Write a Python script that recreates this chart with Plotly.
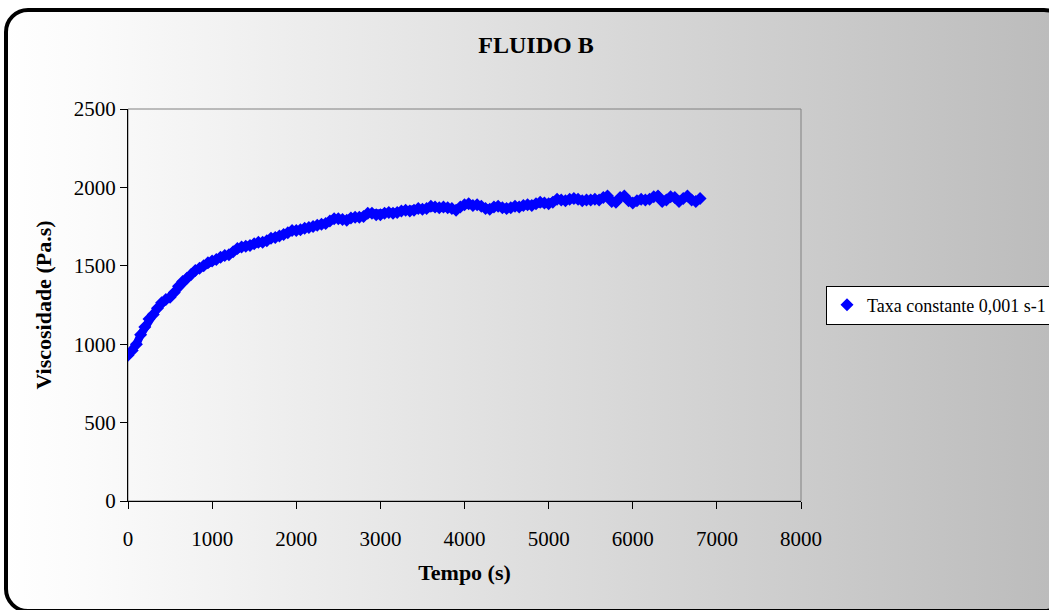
import base64
import plotly.graph_objects as go

# ---- data ----
time_s = [i * 50 for i in range(137)]
viscosity = [
    930, 960, 1000, 1060, 1110, 1160, 1190, 1230, 1265, 1285,
    1300, 1330, 1370, 1400, 1420, 1445, 1470, 1485, 1500, 1520,
    1530, 1540, 1555, 1565, 1570, 1590, 1610, 1620, 1625, 1630,
    1640, 1650, 1650, 1660, 1675, 1680, 1690, 1700, 1710, 1725,
    1725, 1730, 1740, 1745, 1750, 1758, 1765, 1770, 1785, 1800,
    1800, 1795, 1790, 1805, 1810, 1810, 1815, 1835, 1835, 1825,
    1825, 1835, 1840, 1835, 1840, 1850, 1855, 1850, 1855, 1865,
    1860, 1865, 1880, 1875, 1870, 1875, 1870, 1865, 1855, 1875,
    1890, 1895, 1885, 1890, 1880, 1865, 1860, 1875, 1880, 1870,
    1865, 1870, 1880, 1875, 1885, 1890, 1885, 1895, 1905, 1900,
    1895, 1905, 1925, 1920, 1915, 1925, 1930, 1925, 1915, 1920,
    1920, 1925, 1920, 1935, 1945, 1910, 1905, 1935, 1945, 1915,
    1900, 1915, 1925, 1920, 1925, 1940, 1945, 1910, 1920, 1940,
    1935, 1910, 1930, 1945, 1920, 1910, 1930,
]
series_name = "Taxa constante 0,001 s-1"
chart_title = "FLUIDO B"
x_title = "Tempo (s)"
y_title = "Viscosidade (Pa.s)"
x_ticks = [0, 1000, 2000, 3000, 4000, 5000, 6000, 7000, 8000]
y_ticks = [0, 500, 1000, 1500, 2000, 2500]

W, H = 1049, 610
ML, MR, MT, MB = 128, 248, 109, 109
PW, PH = W - ML - MR, H - MT - MB

FONT = "Liberation Serif, Times New Roman, serif"
BLUE = "#0000FF"

# background frame: rounded border (cropped at right/bottom) with gray gradient
svg = (
    "<svg xmlns='http://www.w3.org/2000/svg' width='1049' height='610' "
    "viewBox='0 0 1049 610' preserveAspectRatio='none'>"
    "<defs><linearGradient id='g' gradientUnits='userSpaceOnUse' x1='0' y1='0' x2='1049' y2='0'>"
    "<stop offset='0' stop-color='#FFFFFF'/><stop offset='0.08' stop-color='#FBFBFB'/>"
    "<stop offset='1' stop-color='#BCBCBC'/></linearGradient></defs>"
    "<rect x='6' y='10' width='1060' height='601' rx='22' ry='22' "
    "fill='url(#g)' stroke='#000000' stroke-width='4'/></svg>"
)
src = "data:image/svg+xml;base64," + base64.b64encode(svg.encode()).decode()

fig = go.Figure()
# dense band of overlapping markers (line underneath fills the gaps)
fig.add_trace(go.Scatter(
    x=time_s, y=viscosity, mode="lines", showlegend=False, hoverinfo="skip",
    line=dict(color=BLUE, width=8),
))
fig.add_trace(go.Scatter(
    x=time_s, y=viscosity, mode="markers", name=series_name,
    marker=dict(symbol="diamond", size=10, color=BLUE, line=dict(width=0)),
    showlegend=True,
))

fig.update_layout(
    width=W, height=H,
    margin=dict(l=ML, r=MR, t=MT, b=MB, autoexpand=False),
    paper_bgcolor="#FFFFFF",
    plot_bgcolor="#C0C0C0",
    font=dict(family=FONT, color="#000000", size=21),
    title=dict(text="<b>" + chart_title + "</b>", x=536 / W, xanchor="center",
               y=1 - 45 / H, yanchor="middle", yref="container",
               font=dict(family=FONT, size=24, color="#000000")),
    images=[dict(source=src, xref="paper", yref="paper",
                 x=-ML / PW, y=1 + MT / PH, sizex=W / PW, sizey=H / PH,
                 xanchor="left", yanchor="top", sizing="stretch", layer="below")],
    showlegend=True,
    legend=dict(x=(826 - ML) / PW, y=(H - MB - 305) / PH,
                xanchor="left", yanchor="middle",
                bgcolor="#FFFFFF", bordercolor="#000000", borderwidth=1,
                font=dict(family=FONT, size=18, color="#000000"),
                itemwidth=30, tracegroupgap=0),
    shapes=[dict(type="rect", xref="paper", yref="paper", x0=0, y0=0, x1=1, y1=1,
                 line=dict(color="#808080", width=1), layer="below")],
)

fig.update_xaxes(
    range=[0, 8000], tickvals=x_ticks, ticktext=[str(v) for v in x_ticks],
    showgrid=False, zeroline=False,
    showline=True, linecolor="#000000", linewidth=1,
    ticks="outside", ticklen=7, tickcolor="#000000", tickwidth=1,
    ticklabelstandoff=12,
    tickfont=dict(family=FONT, size=21),
    title=dict(text="<b>" + x_title + "</b>", font=dict(family=FONT, size=22), standoff=14),
)
fig.update_yaxes(
    range=[0, 2500], tickvals=y_ticks, ticktext=[str(v) for v in y_ticks],
    showgrid=False, zeroline=False,
    showline=True, linecolor="#000000", linewidth=1,
    ticks="outside", ticklen=7, tickcolor="#000000", tickwidth=1,
    tickfont=dict(family=FONT, size=21),
    title=dict(text="<b>" + y_title + "</b>", font=dict(family=FONT, size=22), standoff=16),
)

fig.write_html("out.html")
